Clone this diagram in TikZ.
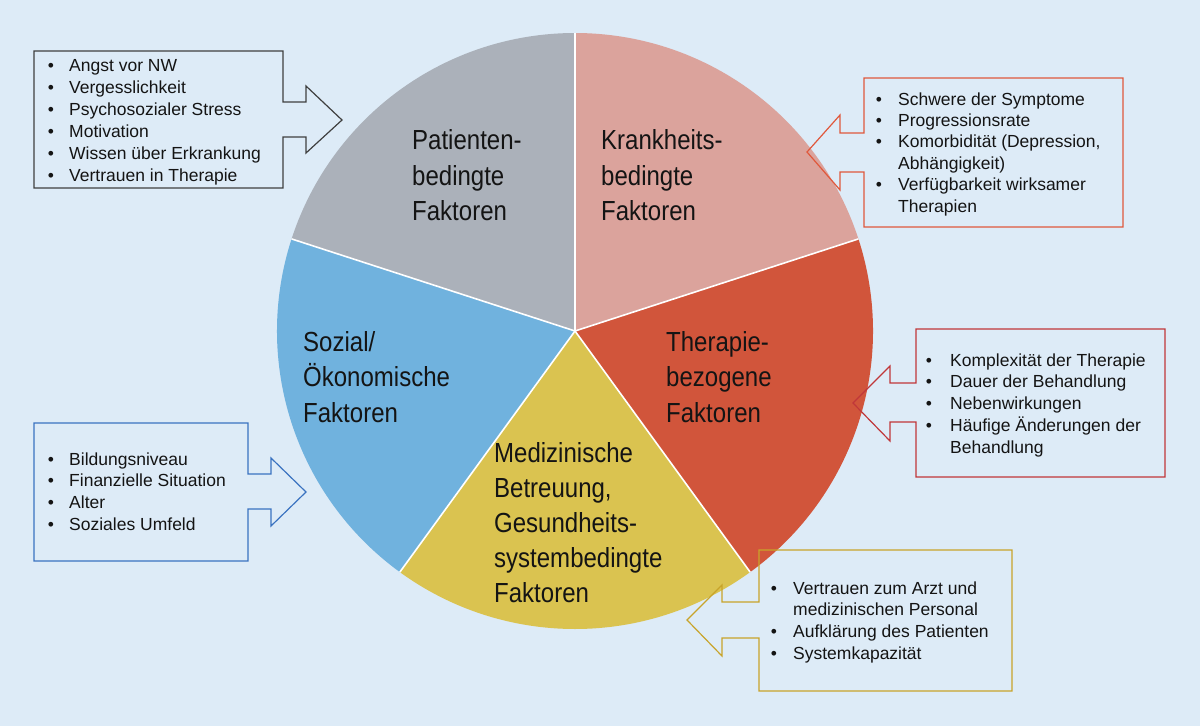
\documentclass[tikz,border=0pt]{standalone}
\usepackage{fontspec}
\setmainfont{Liberation Sans}
\newfontfamily\pief[FakeStretch=0.87]{Liberation Sans}
\definecolor{bgc}{HTML}{DDEBF7}
\definecolor{cgray}{HTML}{ABB1BA}
\definecolor{cpink}{HTML}{DBA39C}
\definecolor{cred}{HTML}{D1553B}
\definecolor{cyel}{HTML}{DAC350}
\definecolor{cblue}{HTML}{70B2DE}
\definecolor{lgray}{HTML}{3F3F3F}
\definecolor{lpink}{HTML}{E0583C}
\definecolor{lred}{HTML}{C0373A}
\definecolor{lgold}{HTML}{C8A42A}
\definecolor{lblue}{HTML}{3A72C0}
\definecolor{txt}{HTML}{141414}
\begin{document}
\begin{tikzpicture}[x=1pt,y=-1pt,
  slice/.style={draw=white,line width=1.6pt,line join=round},
  lbl/.style={anchor=base west,inner sep=0,text=txt,font=\pief\fontsize{27.6}{35}\selectfont},
  itm/.style={anchor=base west,inner sep=0,text=txt,font=\fontsize{17.5}{21.7}\selectfont},
  bul/.style={anchor=base,inner sep=0,text=txt,font=\fontsize{17.5}{21.7}\selectfont},
  callout/.style={line width=1.2pt,line join=miter}]
\fill[bgc] (0,0) rectangle (1200,726);
\useasboundingbox (0,0) rectangle (1200,726);
% pie
\coordinate (c) at (575,331);
\fill[cpink] (c) -- ++(-90:298) arc[start angle=-90,end angle=-18,radius=298] -- cycle;
\fill[cred] (c) -- ++(-18:298) arc[start angle=-18,end angle=54,radius=298] -- cycle;
\fill[cyel] (c) -- ++(54:298) arc[start angle=54,end angle=126,radius=298] -- cycle;
\fill[cblue] (c) -- ++(126:298) arc[start angle=126,end angle=198,radius=298] -- cycle;
\fill[cgray] (c) -- ++(198:298) arc[start angle=198,end angle=270,radius=298] -- cycle;
\foreach \a in {-90,-18,54,126,198} \draw[slice] (c) -- ++(\a:298);
% callouts
\draw[callout,lgray] (34,51) -- (283,51) -- (283,102) -- (306,102) -- (306,86) -- (342,120) -- (306,153) -- (306,137) -- (283,137) -- (283,188) -- (34,188) -- cycle;
\draw[callout,lpink] (864,78) -- (1123,78) -- (1123,227) -- (864,227) -- (864,172) -- (840,172) -- (840,190) -- (807,152) -- (840,115) -- (840,133) -- (864,133) -- cycle;
\draw[callout,lred] (916,329) -- (1165,329) -- (1165,477) -- (916,477) -- (916,422) -- (890,422) -- (890,441) -- (853,403) -- (890,366) -- (890,383) -- (916,383) -- cycle;
\draw[callout,lgold] (759,550) -- (1012,550) -- (1012,691) -- (759,691) -- (759,638) -- (722,638) -- (722,656) -- (687,620) -- (722,585) -- (722,602) -- (759,602) -- cycle;
\draw[callout,lblue] (34,423) -- (248,423) -- (248,474) -- (271,474) -- (271,458) -- (306,492) -- (271,526) -- (271,509) -- (248,509) -- (248,561) -- (34,561) -- cycle;
% pie labels
\node[lbl] (pa1) at (412,149) {Patienten-};
\node[lbl] (pa2) at (412,185) {bedingte};
\node[lbl] (pa3) at (412,220) {Faktoren};
\node[lbl] (kr1) at (601,149) {Krankheits-};
\node[lbl] (kr2) at (601,185) {bedingte};
\node[lbl] (kr3) at (601,220) {Faktoren};
\node[lbl] (so1) at (303,351.5) {Sozial/};
\node[lbl] (so2) at (303,386.5) {Ökonomische};
\node[lbl] (so3) at (303,422) {Faktoren};
\node[lbl] (th1) at (666,351.5) {Therapie-};
\node[lbl] (th2) at (666,386.5) {bezogene};
\node[lbl] (th3) at (666,422) {Faktoren};
\node[lbl] (me1) at (494,462.5) {Medizinische};
\node[lbl] (me2) at (494,497.5) {Betreuung,};
\node[lbl] (me3) at (494,532.5) {Gesundheits-};
\node[lbl] (me4) at (494,567.5) {systembedingte};
\node[lbl] (me5) at (494,602.5) {Faktoren};
% box 1
\foreach \t [count=\i from 0] in {Angst vor NW, Vergesslichkeit, Psychosozialer Stress, Motivation, Wissen über Erkrankung, Vertrauen in Therapie} {
  \node[bul] (ab\i) at (51,{71+22*\i}) {•};
  \node[itm] (at\i) at (69,{71+22*\i}) {\t};
}
% box 2
\node[bul] (bb0) at (879,105) {•};
\node[itm] (bt0) at (898,105) {Schwere der Symptome};
\node[bul] (bb1) at (879,126.4) {•};
\node[itm] (bt1) at (898,126.4) {Progressionsrate};
\node[bul] (bb2) at (879,147.8) {•};
\node[itm] (bt2) at (898,147.8) {Komorbidität (Depression,};
\node[itm] (bt3) at (898,169.2) {Abhängigkeit)};
\node[bul] (bb4) at (879,190.6) {•};
\node[itm] (bt4) at (898,190.6) {Verfügbarkeit wirksamer};
\node[itm] (bt5) at (898,212) {Therapien};
% box 3
\node[bul] (cb0) at (929,366) {•};
\node[itm] (ct0) at (950,366) {Komplexität der Therapie};
\node[bul] (cb1) at (929,387.75) {•};
\node[itm] (ct1) at (950,387.75) {Dauer der Behandlung};
\node[bul] (cb2) at (929,409.5) {•};
\node[itm] (ct2) at (950,409.5) {Nebenwirkungen};
\node[bul] (cb3) at (929,431.25) {•};
\node[itm] (ct3) at (950,431.25) {Häufige Änderungen der};
\node[itm] (ct4) at (950,453) {Behandlung};
% box 4
\node[bul] (db0) at (774,594) {•};
\node[itm] (dt0) at (793,594) {Vertrauen zum Arzt und};
\node[itm] (dt1) at (793,615.7) {medizinischen Personal};
\node[bul] (db2) at (774,637.4) {•};
\node[itm] (dt2) at (793,637.4) {Aufklärung des Patienten};
\node[bul] (db3) at (774,659.1) {•};
\node[itm] (dt3) at (793,659.1) {Systemkapazität};
% box 5
\foreach \t [count=\i from 0] in {Bildungsniveau, Finanzielle Situation, Alter, Soziales Umfeld} {
  \node[bul] (eb\i) at (51,{465+21.7*\i}) {•};
  \node[itm] (et\i) at (69,{465+21.7*\i}) {\t};
}
\end{tikzpicture}
\end{document}
